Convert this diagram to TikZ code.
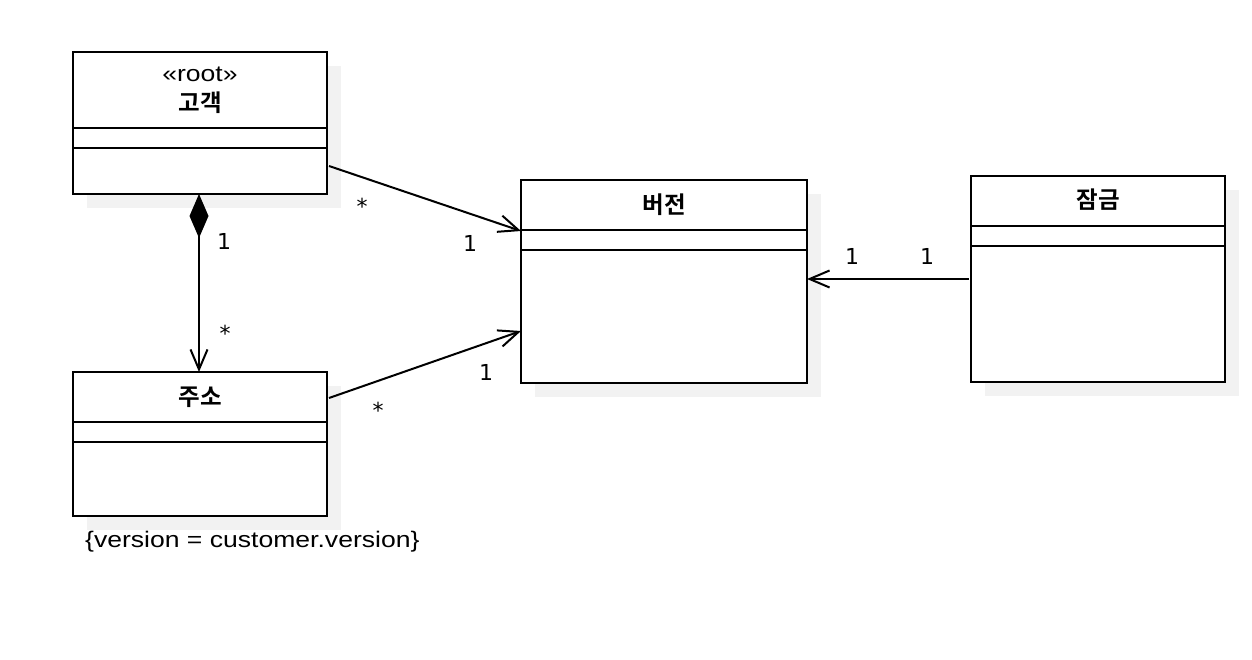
\documentclass[tikz,border=0pt]{standalone}
\usepackage{fontspec}
\setmainfont{Liberation Sans}
\newfontfamily\krfont{Noto Sans CJK KR}[BoldFont={Noto Sans CJK KR Bold}]
\newfontfamily\labfont[FakeStretch=1.18]{Liberation Sans}
\newfontfamily\mulfont{DejaVu Sans}
\usetikzlibrary{arrows.meta,shadows,calc}
\definecolor{shd}{HTML}{F2F2F2}
\begin{document}
\begin{tikzpicture}[x=1pt,y=-1pt,
  cls/.style={draw, line width=2pt, fill=white, inner sep=0pt, outer sep=0pt, anchor=north west,
    drop shadow={shadow xshift=14pt, shadow yshift=-14pt, fill=shd, opacity=1}},
  div/.style={line width=2pt},
  title/.style={anchor=base, inner sep=0pt, font=\krfont\bfseries\fontsize{23.5}{28}\selectfont},
  stereo/.style={anchor=base, inner sep=0pt, font=\labfont\fontsize{22.5}{27}\selectfont},
  mul/.style={anchor=base, inner sep=0pt, font=\mulfont\fontsize{22}{26}\selectfont},
  assoc/.style={line width=2pt, -{Straight Barb[length=20pt,width=17pt,line width=2pt]}},
  comp/.style={line width=2pt, {Diamond[length=44pt,width=19pt]}-{Straight Barb[length=20pt,width=17pt,line width=2pt]}}
]
\useasboundingbox (0,0) rectangle (1252,660);

% classes
\node[cls, minimum width=254pt, minimum height=142pt] (c) at (73,52) {};
\node[cls, minimum width=254pt, minimum height=144pt] (a) at (73,372) {};
\node[cls, minimum width=286pt, minimum height=203pt] (v) at (521,180) {};
\node[cls, minimum width=254pt, minimum height=206pt] (l) at (971,176) {};

% dividers
\draw[div] ($(c.north west)+(0,76)$) -- ($(c.north east)+(0,76)$);
\draw[div] ($(c.north west)+(0,96)$) -- ($(c.north east)+(0,96)$);
\draw[div] ($(a.north west)+(0,50)$) -- ($(a.north east)+(0,50)$);
\draw[div] ($(a.north west)+(0,70)$) -- ($(a.north east)+(0,70)$);
\draw[div] ($(v.north west)+(0,50)$) -- ($(v.north east)+(0,50)$);
\draw[div] ($(v.north west)+(0,70)$) -- ($(v.north east)+(0,70)$);
\draw[div] ($(l.north west)+(0,50)$) -- ($(l.north east)+(0,50)$);
\draw[div] ($(l.north west)+(0,70)$) -- ($(l.north east)+(0,70)$);

% titles
\node[stereo] (cs) at ($(c.north)+(0,30)$) {«root»};
\node[title] (ct) at ($(c.north)+(0,60)$) {고객};
\node[title] (at) at ($(a.north)+(0,33)$) {주소};
\node[title] (vt) at ($(v.north)+(0,34)$) {버전};
\node[title] (lt) at ($(l.north)+(0,33)$) {잠금};

% connectors
\draw[assoc] ($(c.north east)+(2,114)$) -- ($(v.north west)+(0,51)$);
\draw[assoc] ($(a.north east)+(2,26)$) -- ($(v.north west)+(0,151)$);
\draw[assoc] ($(l.north west)+(-2,103)$) -- ($(v.north east)+(0,99)$);
\draw[comp] ([xshift=-1pt]c.south) -- ([xshift=-1pt]a.north);

% multiplicities
\node[mul] (m1) at (362,215) {*};
\node[mul] (m2) at (470,252) {1};
\node[mul] (m3) at (486,380) {1};
\node[mul] (m4) at (378,418) {*};
\node[mul] (m5) at (852,265) {1};
\node[mul] (m6) at (927,265) {1};
\node[mul] (m7) at (224,250) {1};
\node[mul] (m8) at (225,341) {*};

% constraint
\node[anchor=base west, inner sep=0pt, font=\labfont\fontsize{22.5}{27}\selectfont] (k) at (85,547) {\{version = customer.version\}};
\end{tikzpicture}
\end{document}
